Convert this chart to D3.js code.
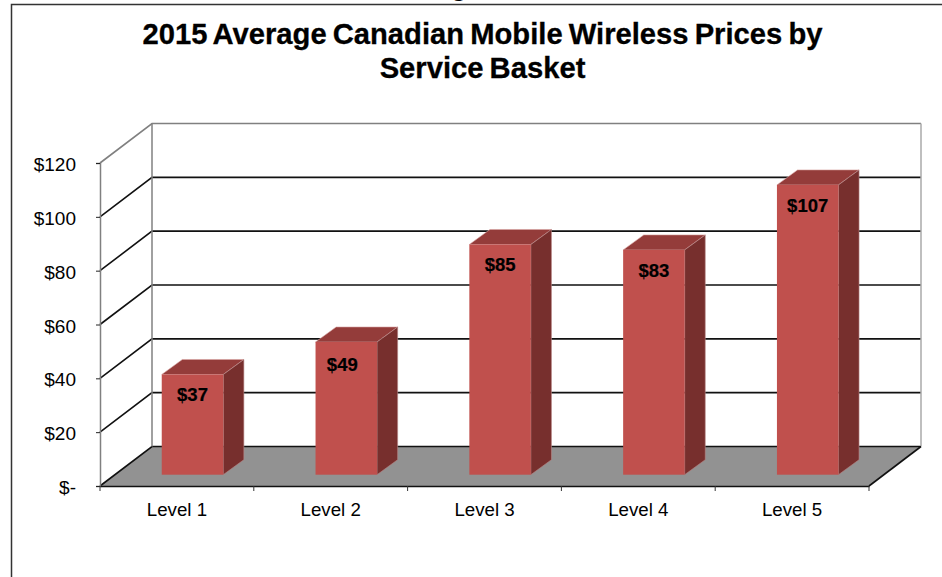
<!DOCTYPE html>
<html>
<head>
<meta charset="utf-8">
<title>2015 Average Canadian Mobile Wireless Prices</title>
<script src="https://cdn.jsdelivr.net/npm/d3@7"></script>
<style>
  html, body { margin: 0; padding: 0; background: #fff; overflow: hidden; }
  svg { display: block; font-family: "Liberation Sans", Arial, sans-serif; }
</style>
</head>
<body>
<div id="chart"></div>
<script>
// Values
const levels = ['Level 1', 'Level 2', 'Level 3', 'Level 4', 'Level 5'];
const prices = [37, 49, 85, 83, 107];
const priceTicks = [0, 20, 40, 60, 80, 100, 120];
const titleLines = ['2015 Average Canadian Mobile Wireless Prices by', 'Service Basket'];

const width = 942;
const height = 577;

// Fake 3D offsets: wall depth, and where the bars stand on the floor
const depthX = 52;
const depthY = 39.5;
const barShiftX = 15.6;
const barShiftY = 11.3;
const barDepthX = 20.6;
const barDepthY = 15;

const x = d3.scaleBand().domain(levels).range([100, 869]);
const y = d3.scaleLinear().domain([0, 120]).range([486, 163]);
// bars sit a bit further forward so they scale slightly bigger
const yBar = d3.scaleLinear().domain([0, 120]).range([y(0) - barShiftY, y(0) - barShiftY - 325]);
const barWidth = x.bandwidth() * 0.4;

const money = d => d === 0 ? '$-' : d3.format('$')(d);

const svg = d3.select('#chart').append('svg')
  .attr('width', width)
  .attr('height', height);

// Outer chart border, only top and left show
svg.append('path')
  .attr('d', `M11.5,${height}V4.5H${width}`)
  .attr('fill', 'none')
  .attr('stroke', '#333')
  .attr('stroke-width', 1.5);

// Clipped piece of text above the border
svg.append('text')
  .attr('x', 459)
  .attr('y', -4)
  .attr('text-anchor', 'middle')
  .attr('font-size', 26)
  .attr('font-weight', 'bold')
  .text('g');

// Title
svg.append('g').selectAll('text')
  .data(titleLines)
  .enter()
  .append('text')
  .attr('x', 482.5)
  .attr('y', (d, i) => 44 + i * 34)
  .attr('text-anchor', 'middle')
  .attr('font-size', 29.2)
  .attr('font-weight', 'bold')
  .attr('word-spacing', -2)
  .attr('fill', '#000')
  .attr('stroke', '#000')
  .attr('stroke-width', 0.3)
  .text(d => d);

const x0 = x.range()[0];
const x1 = x.range()[1];

// Floor
svg.append('path')
  .attr('d', d3.line()([
    [x0, y(0)],
    [x0 + depthX, y(0) - depthY],
    [x1 + depthX, y(0) - depthY],
    [x1, y(0)]
  ]) + 'Z')
  .attr('fill', '#929292');

// Gridlines on the side wall and back wall
const grid = svg.append('g');
grid.selectAll('.grid')
  .data(priceTicks)
  .enter()
  .append('path')
  .attr('class', 'grid')
  .attr('d', d => d3.line()([
    [x0, y(d)],
    [x0 + depthX, y(d) - depthY],
    [x1 + depthX, y(d) - depthY]
  ]))
  .attr('fill', 'none')
  .attr('stroke', d => d === 120 ? '#808080' : '#111')
  .attr('stroke-width', 1.6);

// Wall edges
grid.selectAll('.edge')
  .data([x0 + depthX, x1 + depthX])
  .enter()
  .append('line')
  .attr('class', 'edge')
  .attr('x1', d => d)
  .attr('x2', d => d)
  .attr('y1', y(120) - depthY)
  .attr('y2', y(0) - depthY)
  .attr('stroke', (d, i) => i ? '#aaa' : '#808080')
  .attr('stroke-width', 1.5);

// Right floor edge
svg.append('line')
  .attr('x1', x1)
  .attr('y1', y(0))
  .attr('x2', x1 + depthX)
  .attr('y2', y(0) - depthY)
  .attr('stroke', '#111')
  .attr('stroke-width', 1.6);

// Axes
const yAxis = svg.append('g')
  .attr('transform', `translate(${x0},0)`)
  .call(d3.axisLeft(y).tickValues(priceTicks).tickFormat(money).tickSize(4).tickPadding(20));
yAxis.select('.domain').attr('stroke', '#808080').attr('stroke-width', 1.5);
yAxis.selectAll('.tick line').attr('stroke', '#222');
yAxis.selectAll('.tick text')
  .attr('dy', '0.4em')
  .attr('font-size', 19);

const xAxis = svg.append('g')
  .attr('transform', `translate(0,${y(0)})`)
  .call(d3.axisBottom(x).tickSize(0).tickPadding(17));
xAxis.select('.domain').attr('stroke', '#111').attr('stroke-width', 1.5);
xAxis.selectAll('.tick text').attr('font-size', 18.7);

// Ticks between the categories, a band scale only gives the centres
xAxis.selectAll('.sep')
  .data(levels.concat(null))
  .enter()
  .append('line')
  .attr('class', 'sep')
  .attr('x1', d => d ? x(d) : x1)
  .attr('x2', d => d ? x(d) : x1)
  .attr('y1', 0)
  .attr('y2', 5)
  .attr('stroke', '#333');

svg.selectAll('.tick text')
  .attr('font-family', '"Liberation Sans", Arial, sans-serif')
  .attr('fill', '#000');

// Bars
const bars = svg.append('g').selectAll('.bar')
  .data(levels.map((level, i) => ({ level, price: prices[i] })))
  .enter()
  .append('g')
  .attr('class', 'bar');

const left = d => x(d.level) + (x.bandwidth() - barWidth) / 2 + barShiftX;
const right = d => left(d) + barWidth;
const base = yBar(0);

// top face
bars.append('path')
  .attr('d', d => d3.line()([
    [left(d), yBar(d.price)],
    [left(d) + barDepthX, yBar(d.price) - barDepthY],
    [right(d) + barDepthX, yBar(d.price) - barDepthY],
    [right(d), yBar(d.price)]
  ]) + 'Z')
  .attr('fill', '#943c3a')
  .attr('stroke', '#d8a5a3')
  .attr('stroke-width', 0.6);

// side face
bars.append('path')
  .attr('d', d => d3.line()([
    [right(d), yBar(d.price)],
    [right(d) + barDepthX, yBar(d.price) - barDepthY],
    [right(d) + barDepthX, base - barDepthY],
    [right(d), base]
  ]) + 'Z')
  .attr('fill', '#772f2d')
  .attr('stroke', '#b98a89')
  .attr('stroke-width', 0.6);

// front face
bars.append('rect')
  .attr('x', left)
  .attr('y', d => yBar(d.price))
  .attr('width', barWidth)
  .attr('height', d => base - yBar(d.price))
  .attr('fill', '#c0504d');

// value labels
bars.append('text')
  .attr('x', d => left(d) + barWidth / 2 + (d.level === 'Level 2' ? -4 : 0))
  .attr('y', d => yBar(d.price) + (d.level === 'Level 2' ? 29 : 27))
  .attr('text-anchor', 'middle')
  .attr('font-size', 18.5)
  .attr('font-weight', 'bold')
  .attr('fill', '#000')
  .attr('stroke', '#000')
  .attr('stroke-width', 0.2)
  .text(d => money(d.price));
</script>
</body>
</html>
